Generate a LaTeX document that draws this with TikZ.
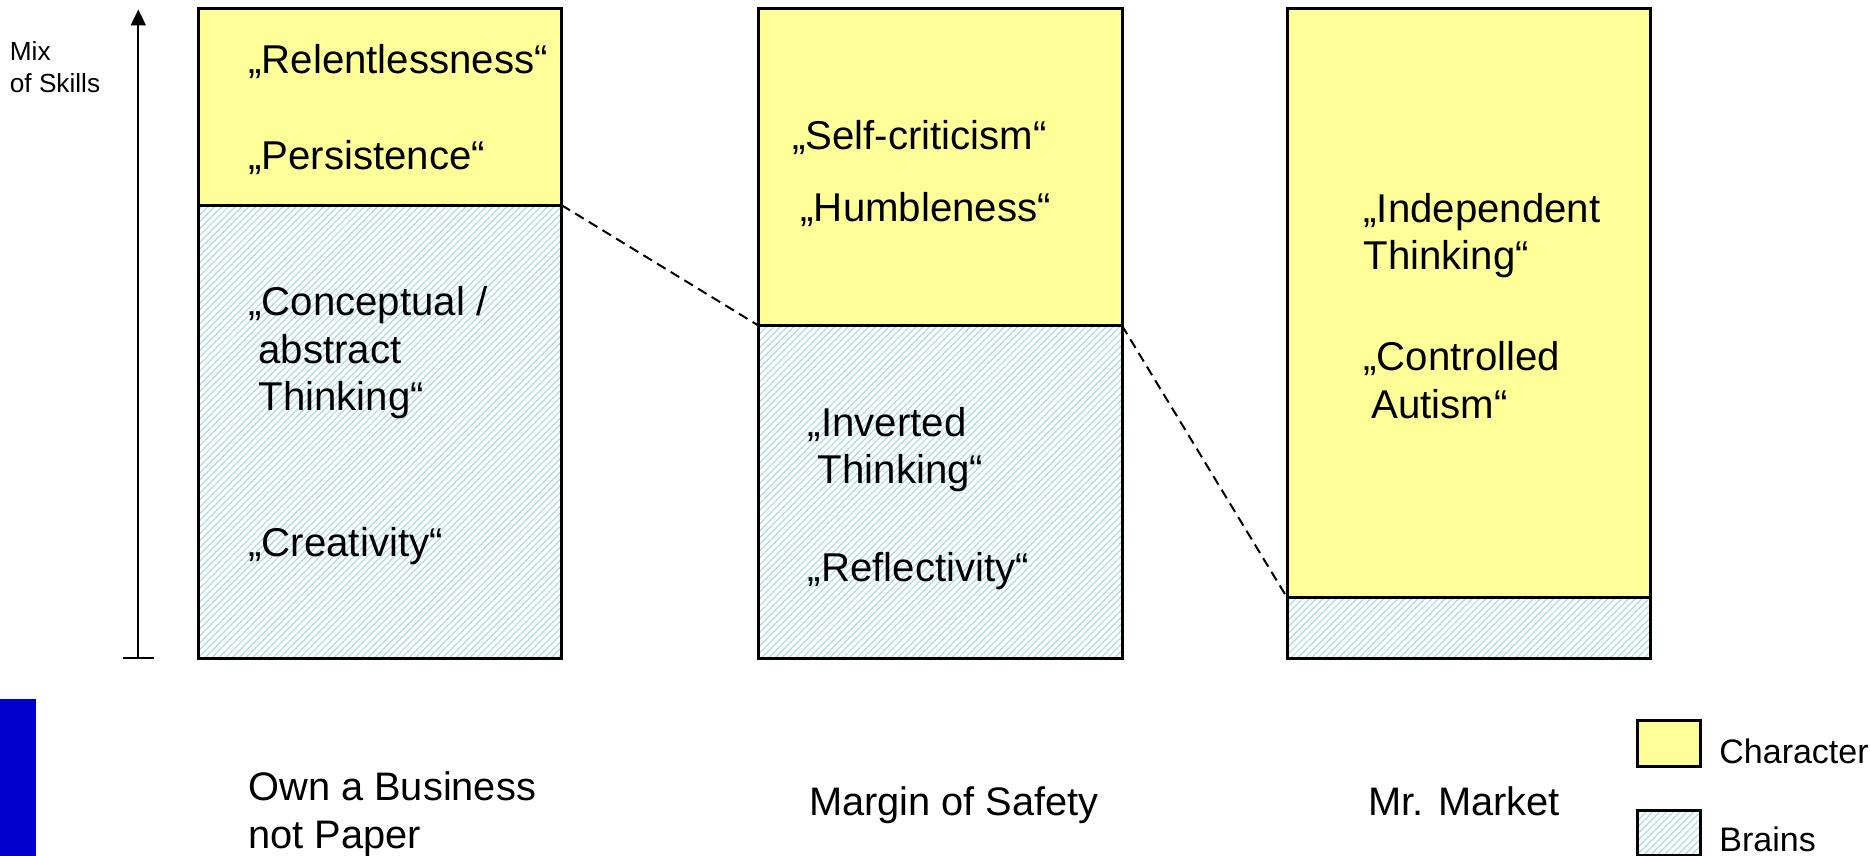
\documentclass[tikz,border=0pt]{standalone}
\usepackage{fontspec}
\setmainfont{Liberation Sans}
\usetikzlibrary{arrows.meta,patterns.meta}

\definecolor{charyellow}{RGB}{255,255,153}
\definecolor{brainhatch}{RGB}{170,220,224}
\definecolor{sideblue}{RGB}{0,0,204}

\tikzset{
  character/.style={fill=charyellow},
  brains/.style={pattern={Lines[angle=45,distance=2.4pt,line width=.6pt]}, pattern color=brainhatch},
  bar/.style={draw, line width=1.5pt},
  link/.style={dash pattern=on 5pt off 3pt, line width=1pt},
  skill/.style={font=\fontsize{20.1}{23.85}\selectfont, anchor=west, align=left, inner sep=0pt},
  caption/.style={font=\fontsize{19.9}{23.85}\selectfont, anchor=west, align=left, inner sep=0pt},
  legend/.style={font=\fontsize{17}{20}\selectfont, anchor=west, inner sep=0pt},
}

\begin{document}
\begin{tikzpicture}[x=0.5pt, y=-0.5pt, >={Triangle[width=7.5pt,length=8pt]}]
  \useasboundingbox (0,0) rectangle (1870,856);

  % Axis
  \draw[->, line width=1pt] (138.3,658.3) -- (138.3,9.5);
  \draw[line width=1pt] (122.8,658.3) -- (153.8,658.3);
  \node[font=\fontsize{13.1}{16}\selectfont, anchor=west, align=left, inner sep=0pt] (mix) at (9.5,67.4) {Mix\\of Skills};

  % Bars: brains below, character above
  \foreach \x/\d/\i in {198/205.1/1, 758.5/325.6/2, 1287/597.5/3} {
    \path[brains] (\x,\d) rectangle (\x+363.5,658.3);
    \path[character] (\x,8.3) rectangle (\x+363.5,\d);
    \draw[bar] (\x,8.3) rectangle (\x+363.5,658.3);
    \draw[bar] (\x,\d) coordinate (cutw\i) -- (\x+363.5,\d) coordinate (cute\i);
  }

  % Dashed links
  \draw[link] (cute1) -- (cutw2);
  \draw[link] (cute2) -- (cutw3);

  % Own a Business not Paper
  \node[skill] (relent) at (248,61.4) {„Relentlessness“};
  \node[skill] (persist) at (248,158) {„Persistence“};
  \node[skill] (concept) at (248,352.8) {„Conceptual /\\\hspace*{.25em}abstract\\\hspace*{.25em}Thinking“};
  \node[skill] (creat) at (248,546.6) {„Creativity“};

  % Margin of Safety
  \node[skill] (selfcrit) at (791.9,137.8) {„Self-criticism“};
  \node[skill] (humble) at (800.2,209.3) {„Humbleness“};
  \node[skill] (invert) at (807.4,449.6) {„Inverted\\\hspace*{.25em}Thinking“};
  \node[skill] (reflect) at (807.4,570.7) {„Reflectivity“};

  % Mr. Market
  \node[skill] (indep) at (1363.1,235.5) {„Independent\\Thinking“};
  \node[skill] (control) at (1363.1,379.9) {„Controlled\\\hspace*{.2em}Autism“};

  % Captions
  \node[caption] (own) at (248,814) {Own a Business\\not Paper};
  \node[caption] (margin) at (808.6,805.5) {Margin of Safety};
  \node[caption] (market) at (1367.9,801.5) {Mr. Market};

  % Legend
  \draw[bar, character] (1637,720) rectangle (1700,766);
  \draw[bar, brains] (1637,810) rectangle (1700,855);
  \node[legend] (charkey) at (1719,751) {Character};
  \node[legend] (brainkey) at (1719,839) {Brains};

  % Side mark
  \fill[sideblue] (0,699) rectangle (36,856);
\end{tikzpicture}
\end{document}
